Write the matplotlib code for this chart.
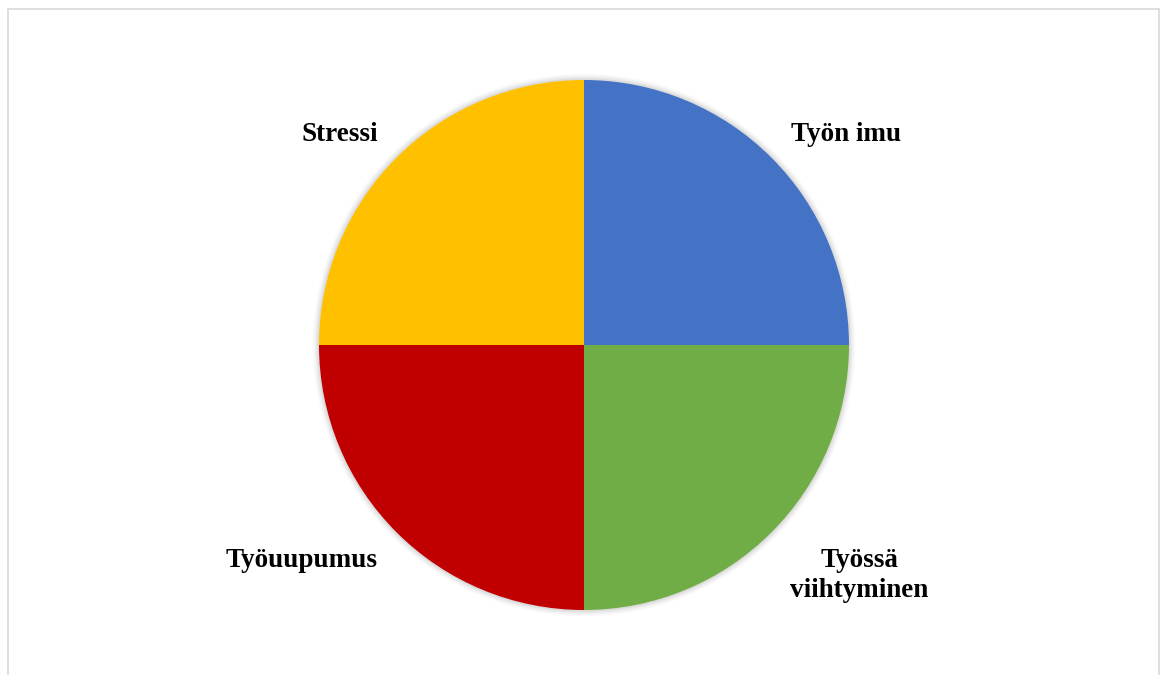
import matplotlib
matplotlib.use("Agg")
import matplotlib.pyplot as plt
from matplotlib.patches import Rectangle, Circle

# data
labels = ["Työn imu", "Työssä\nviihtyminen", "Työuupumus", "Stressi"]
values = [1, 1, 1, 1]
colors = ["#4472C4", "#70AD47", "#C00000", "#FFC000"]

# label centres in pie-radius units (outside end, as in the original)
label_pos = [(0.99, 0.795), (1.04, -0.87), (-1.064, -0.815), (-0.92, 0.795)]

W, H = 1160, 675
fig = plt.figure(figsize=(W / 100, H / 100), dpi=100)

# frame around the chart area
fig.patches.append(Rectangle((8 / W, -0.01), (1159 - 8) / W, (H - 9) / H + 0.01,
                             transform=fig.transFigure, fill=False,
                             edgecolor="#D9D9D9", linewidth=1.2))

cx, cy, r = 584, H - 345, 265
half = 300
ax = fig.add_axes([(cx - half) / W, (cy - half) / H, 2 * half / W, 2 * half / H])

# faint shadow around the pie
for i, a in enumerate([0.05, 0.04, 0.03, 0.02]):
    ax.add_patch(Circle((0, 0), 1 + 0.006 * (i + 1), color="black", alpha=a,
                        linewidth=0, zorder=0))

wedges, texts = ax.pie(values, colors=colors, startangle=90, counterclock=False,
                       labels=labels, radius=1,
                       wedgeprops=dict(linewidth=0, zorder=1),
                       textprops=dict(family="Liberation Serif", fontweight="bold",
                                      fontsize=19.5, color="black"))
for t, (x, y) in zip(texts, label_pos):
    t.set_position((x, y))
    t.set_ha("center")
    t.set_va("center")
    t.set_multialignment("center")
    t.set_linespacing(1.22)

L = half / r
ax.set_xlim(-L, L)
ax.set_ylim(-L, L)
ax.set_aspect("equal")
ax.axis("off")

fig.savefig("out.png", dpi=100)
